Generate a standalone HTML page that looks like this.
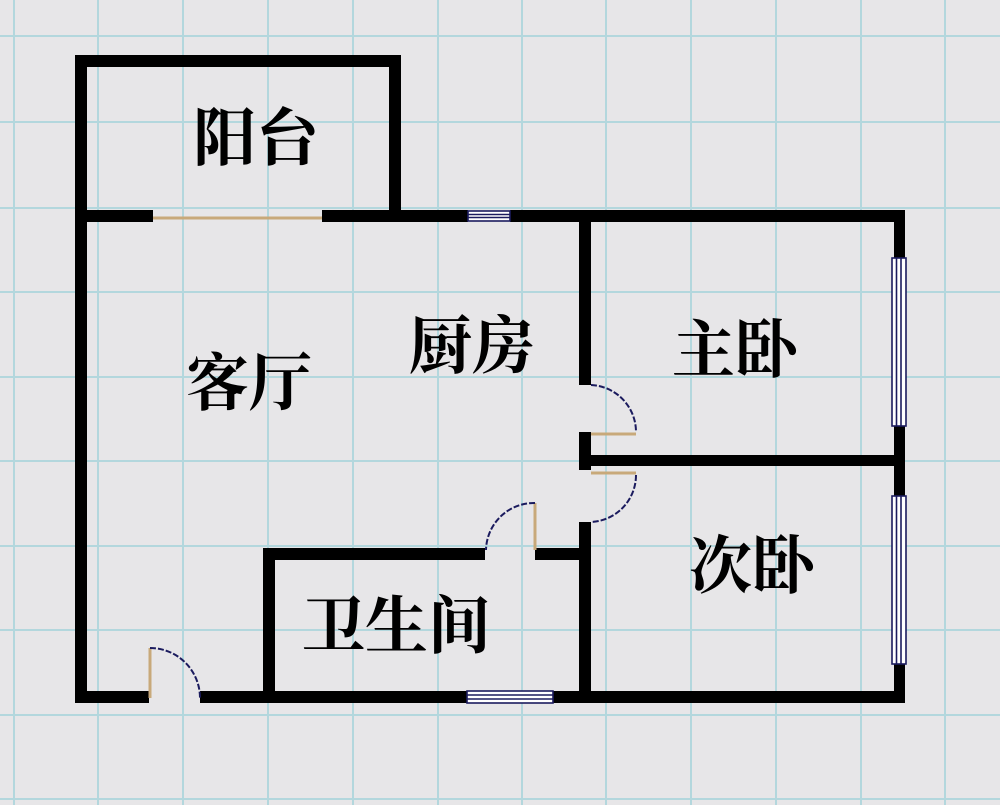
<!DOCTYPE html>
<html><head><meta charset="utf-8"><style>
html,body{margin:0;padding:0;background:#e6e6e6;}
svg{display:block}
text{font-family:"Liberation Serif","Noto Serif CJK SC","Noto Sans CJK SC",serif;font-size:63px;font-weight:bold;fill:#000;}
</style></head><body>
<svg width="1000" height="805" viewBox="0 0 1000 805" xmlns="http://www.w3.org/2000/svg">
<rect width="1000" height="805" fill="#e7e6e8"/>
<g stroke="#b3d7dd" stroke-width="2">
<line x1="14" y1="0" x2="14" y2="805"/><line x1="98" y1="0" x2="98" y2="805"/><line x1="183" y1="0" x2="183" y2="805"/><line x1="268" y1="0" x2="268" y2="805"/><line x1="353" y1="0" x2="353" y2="805"/><line x1="438" y1="0" x2="438" y2="805"/><line x1="522" y1="0" x2="522" y2="805"/><line x1="606" y1="0" x2="606" y2="805"/><line x1="691" y1="0" x2="691" y2="805"/><line x1="776" y1="0" x2="776" y2="805"/><line x1="861" y1="0" x2="861" y2="805"/><line x1="945" y1="0" x2="945" y2="805"/>
<line x1="0" y1="36" x2="1000" y2="36"/><line x1="0" y1="122" x2="1000" y2="122"/><line x1="0" y1="208" x2="1000" y2="208"/><line x1="0" y1="292" x2="1000" y2="292"/><line x1="0" y1="377" x2="1000" y2="377"/><line x1="0" y1="461" x2="1000" y2="461"/><line x1="0" y1="546" x2="1000" y2="546"/><line x1="0" y1="630" x2="1000" y2="630"/><line x1="0" y1="715" x2="1000" y2="715"/><line x1="0" y1="799" x2="1000" y2="799"/>
</g>
<g fill="#000">
<rect x="75" y="55" width="326" height="12"/>
<rect x="75" y="55" width="12" height="648"/>
<rect x="389" y="55" width="12" height="167"/>
<rect x="75" y="210" width="78" height="12"/>
<rect x="322" y="210" width="146" height="12"/>
<rect x="510" y="210" width="395" height="12"/>
<rect x="894" y="210" width="11" height="48"/>
<rect x="894" y="426" width="11" height="70"/>
<rect x="894" y="664" width="11" height="39"/>
<rect x="75" y="691" width="74" height="12"/>
<rect x="200" y="691" width="267" height="12"/>
<rect x="553" y="691" width="352" height="12"/>
<rect x="579" y="215" width="12" height="170"/>
<rect x="579" y="432" width="12" height="38"/>
<rect x="579" y="522" width="12" height="175"/>
<rect x="579" y="455" width="326" height="11"/>
<rect x="263" y="548" width="12" height="150"/>
<rect x="263" y="548" width="222" height="12"/>
<rect x="535" y="548" width="50" height="12"/>
</g>
<line x1="153" y1="218" x2="322" y2="218" stroke="#c8a97a" stroke-width="3"/>
<g fill="#fff" stroke="#1b1b5e" stroke-width="1.6">
<rect x="468" y="211" width="42" height="10"/>
<line x1="468" y1="214.5" x2="510" y2="214.5"/><line x1="468" y1="217.5" x2="510" y2="217.5"/>
<rect x="467" y="691" width="86" height="12"/>
<line x1="467" y1="695" x2="553" y2="695"/><line x1="467" y1="699" x2="553" y2="699"/>
<rect x="892" y="258" width="14" height="168"/>
<line x1="896.5" y1="258" x2="896.5" y2="426"/><line x1="901" y1="258" x2="901" y2="426"/>
<rect x="892" y="496" width="14" height="168"/>
<line x1="896.5" y1="496" x2="896.5" y2="664"/><line x1="901" y1="496" x2="901" y2="664"/>
</g>
<g fill="none" stroke="#c8a97a" stroke-width="3">
<line x1="150" y1="648" x2="150" y2="698"/>
<line x1="535" y1="503" x2="535" y2="550"/>
<line x1="591" y1="434" x2="636" y2="434"/>
<line x1="591" y1="473" x2="636" y2="473"/>
</g>
<g fill="none" stroke="#1b1b5e" stroke-width="2" stroke-dasharray="6 2">
<path d="M150 648 A50 50 0 0 1 200 698"/>
<path d="M535 503 A48 48 0 0 0 486 550"/>
<path d="M591 385 A47 47 0 0 1 636 432"/>
<path d="M636 475 A47 47 0 0 1 591 522"/>
</g>
<text x="193" y="160">阳台</text>
<text x="186" y="405">客厅</text>
<text x="409" y="368">厨房</text>
<text x="672" y="372">主卧</text>
<text x="689" y="588">次卧</text>
<text x="302" y="648">卫生间</text>
</svg>
</body></html>
